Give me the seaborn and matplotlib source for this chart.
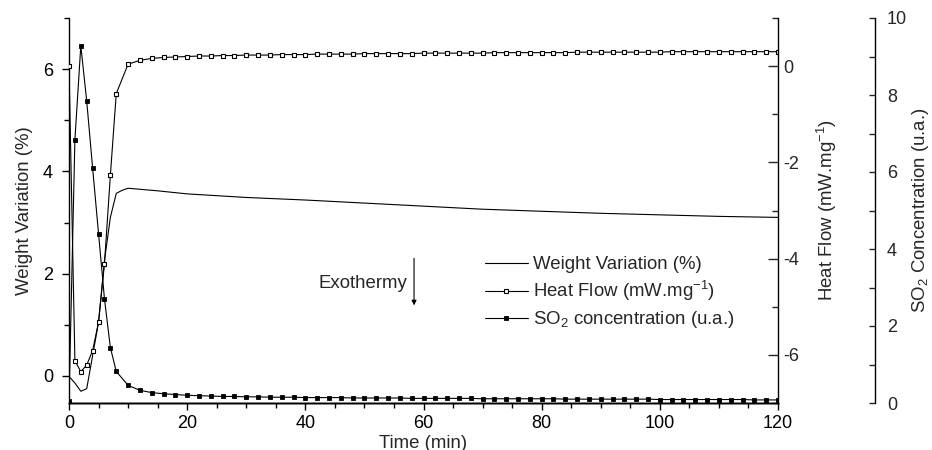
import matplotlib
matplotlib.use("Agg")
import matplotlib.pyplot as plt
from matplotlib.ticker import MultipleLocator
import seaborn as sns

# --- data -------------------------------------------------------------
# sampling grid of the DSC / SO2 signals (min)
time = [0, 1, 2, 3, 4, 5, 6, 7, 8] + list(range(10, 121, 2))

heat_flow = [0.00, -6.12, -6.35, -6.21, -5.91, -5.32, -4.11, -2.27, -0.57,
             0.04, 0.12, 0.16, 0.18, 0.19, 0.20, 0.21, 0.21,
             0.22, 0.22, 0.23, 0.23, 0.23, 0.24, 0.24, 0.24,
             0.25, 0.25, 0.25, 0.25, 0.26, 0.26, 0.26, 0.26,
             0.26, 0.27, 0.27, 0.27, 0.27, 0.27, 0.27, 0.28,
             0.28, 0.28, 0.28, 0.28, 0.28, 0.28, 0.29, 0.29,
             0.29, 0.29, 0.29, 0.29, 0.29, 0.29, 0.30, 0.30,
             0.30, 0.30, 0.30, 0.30, 0.30, 0.30, 0.30, 0.30]

so2 = [0.05, 6.84, 9.28, 7.84, 6.10, 4.40, 2.71, 1.44, 0.82,
       0.46, 0.33, 0.27, 0.24, 0.22, 0.20, 0.19, 0.18,
       0.17, 0.17, 0.16, 0.16, 0.15, 0.15, 0.15, 0.14,
       0.14, 0.14, 0.14, 0.13, 0.13, 0.13, 0.13, 0.13,
       0.12, 0.12, 0.12, 0.12, 0.12, 0.12, 0.11, 0.11,
       0.11, 0.11, 0.11, 0.11, 0.11, 0.10, 0.10, 0.10,
       0.10, 0.10, 0.10, 0.10, 0.10, 0.09, 0.09, 0.09,
       0.09, 0.09, 0.09, 0.09, 0.09, 0.08, 0.08, 0.08]

# thermogravimetric curve
wt_time = [0, 1, 2, 3, 4, 5, 6, 7, 8, 9, 10, 15, 20, 30, 40, 50, 60,
           70, 80, 90, 100, 110, 120]
weight = [-0.01, -0.14, -0.30, -0.25, 0.40, 1.05, 2.25, 3.10, 3.57, 3.63,
          3.67, 3.62, 3.56, 3.49, 3.44, 3.38, 3.32, 3.26, 3.22, 3.18,
          3.15, 3.12, 3.10]

labels = ["Weight Variation (%)", "Heat Flow (mW.mg$^{-1}$)",
          "SO$_2$ concentration (u.a.)"]

# --- style --------------------------------------------------------------
sns.set_style("ticks")
plt.rcParams["font.family"] = ["Liberation Sans", "DejaVu Sans"]
plt.rcParams["mathtext.fontset"] = "custom"
plt.rcParams["mathtext.rm"] = "Liberation Sans"
plt.rcParams["mathtext.it"] = "Liberation Sans:italic"
plt.rcParams["mathtext.bf"] = "Liberation Sans:bold"
plt.rcParams["axes.unicode_minus"] = False

TICK_FS = 13
LABEL_FS = 13.4

W, H = 932, 450
fig = plt.figure(figsize=(W / 100, H / 100), dpi=100)
x0, x1, y_top, y_bot = 69, 778, 18, 403
ax = fig.add_axes([x0 / W, 1 - y_bot / H, (x1 - x0) / W, (y_bot - y_top) / H])
ax2 = ax.twinx()
ax3 = ax.twinx()
ax3.spines["right"].set_position(("axes", (875 - x0) / (x1 - x0)))

lw = 0.8
sns.lineplot(x=wt_time, y=weight, ax=ax, color="black", linewidth=lw,
             estimator=None)
l_wt = ax.lines[-1]
sns.lineplot(x=time, y=heat_flow, ax=ax2, color="black", linewidth=lw,
             estimator=None, marker="s", markersize=3.0,
             markerfacecolor="white", markeredgecolor="black",
             markeredgewidth=0.8)
l_hf = ax2.lines[-1]
sns.lineplot(x=time, y=so2, ax=ax3, color="black", linewidth=lw,
             estimator=None, marker="s", markersize=3.2,
             markerfacecolor="black", markeredgecolor="black",
             markeredgewidth=0.6)
l_so = ax3.lines[-1]

# --- axes ---------------------------------------------------------------
ax.set_xlim(0, 120)
ax.set_ylim(-0.53, 7.0)
ax2.set_ylim(-7.0, 1.0)
ax3.set_ylim(0, 10)

for a in (ax, ax2, ax3):
    a.spines["top"].set_visible(False)
    for s in a.spines.values():
        s.set_linewidth(1.0)
        s.set_color("black")
ax2.spines["left"].set_visible(False)
ax3.spines["left"].set_visible(False)
ax.spines["right"].set_visible(False)

ax.xaxis.set_major_locator(MultipleLocator(20))
ax.xaxis.set_minor_locator(MultipleLocator(5))
ax.yaxis.set_major_locator(MultipleLocator(2))
ax.yaxis.set_minor_locator(MultipleLocator(1))
ax2.yaxis.set_major_locator(MultipleLocator(2))
ax2.yaxis.set_minor_locator(MultipleLocator(1))
ax3.yaxis.set_major_locator(MultipleLocator(2))
ax3.yaxis.set_minor_locator(MultipleLocator(1))

ax.tick_params(axis="both", which="both", direction="out", width=1,
               colors="black")
ax.tick_params(axis="both", which="major", length=5, labelsize=TICK_FS)
ax.tick_params(axis="both", which="minor", length=3.5)
ax.tick_params(axis="x", which="major", pad=3.5)
ax.tick_params(axis="y", which="major", pad=6.5)
ax2.tick_params(axis="y", which="major", direction="in", length=7.5,
                width=1, labelsize=TICK_FS, pad=4)
ax2.tick_params(axis="y", which="minor", direction="in", length=4, width=1)
ax3.tick_params(axis="y", which="major", direction="in", length=4.5,
                width=1, labelsize=TICK_FS, pad=8.5)
ax3.tick_params(axis="y", which="minor", direction="in", length=4.5, width=1)

ax.set_xlabel("Time (min)", fontsize=LABEL_FS, labelpad=2)
ax.set_ylabel("Weight Variation (%)", fontsize=LABEL_FS, labelpad=7)
ax2.set_ylabel("Heat Flow (mW.mg$^{-1}$)", fontsize=LABEL_FS, labelpad=11)
ax3.set_ylabel("SO$_2$ Concentration (u.a.)", fontsize=LABEL_FS, labelpad=2)

# exothermic direction marker
ax.annotate("", xy=(58.4, 1.38), xytext=(58.4, 2.30),
            arrowprops=dict(arrowstyle="-|>", color="black", lw=0.8,
                            mutation_scale=7, shrinkA=0, shrinkB=0))
ax.text(57.3, 1.80, "Exothermy", ha="right", va="center", fontsize=LABEL_FS)

leg = ax3.legend([l_wt, l_hf, l_so], labels, frameon=False, fontsize=LABEL_FS,
                 loc="upper left", bbox_to_anchor=((485 - x0) / (x1 - x0),
                                                   1 - (256 - y_top) / (y_bot - y_top)),
                 handlelength=2.3, handletextpad=0.3, labelspacing=0.32,
                 borderaxespad=0, borderpad=0, numpoints=1)

fig.savefig("out.png", dpi=100)
